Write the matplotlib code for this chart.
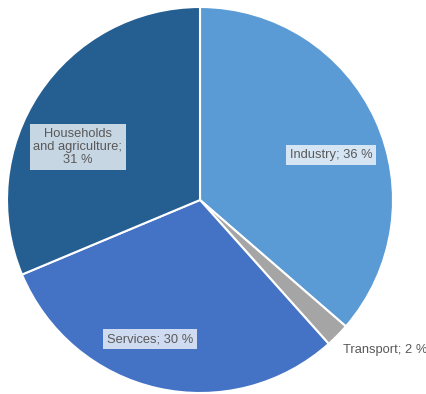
import matplotlib
matplotlib.use("Agg")
import matplotlib.pyplot as plt

# energy use share by sector, in percent
sectors = ["Industry", "Transport", "Services", "Households\nand agriculture"]
shares = [36, 2, 30, 31]
colors = ["#5B9BD5", "#A5A5A5", "#4472C4", "#255E91"]

plt.rcParams["font.family"] = ["Liberation Sans", "DejaVu Sans"]

W, H = 427, 394
fig = plt.figure(figsize=(W / 100, H / 100), dpi=100)
ax = fig.add_axes([0, 0, 1, 1])

cx, cy, r = 200, 194, 193
wedges, _ = ax.pie(shares, colors=colors, startangle=90, counterclock=False,
                   center=(cx, cy), radius=r,
                   wedgeprops=dict(edgecolor="white", linewidth=1.5))

ax.set_xlim(0, W)
ax.set_ylim(0, H)
ax.set_aspect("equal")
ax.axis("off")

# label placement (pixel coords from the bottom-left), boxed or plain
label_pos = {
    "Industry": (331, 239, "center", True),
    "Transport": (343, 44, "left", False),
    "Services": (150, 55, "center", True),
    "Households\nand agriculture": (78, 247, "center", True),
}
for name, val in zip(sectors, shares):
    x, y, ha, boxed = label_pos[name]
    txt = f"{name}; {val} %" if "\n" not in name else f"{name};\n{val} %"
    bbox = dict(boxstyle="square,pad=0.3", facecolor="white", alpha=0.75,
                edgecolor="none") if boxed else None
    ax.text(x, y, txt, ha=ha, va="center", fontsize=9.3, color="#595959",
            linespacing=1.15, bbox=bbox)

fig.savefig("out.png", dpi=100)
